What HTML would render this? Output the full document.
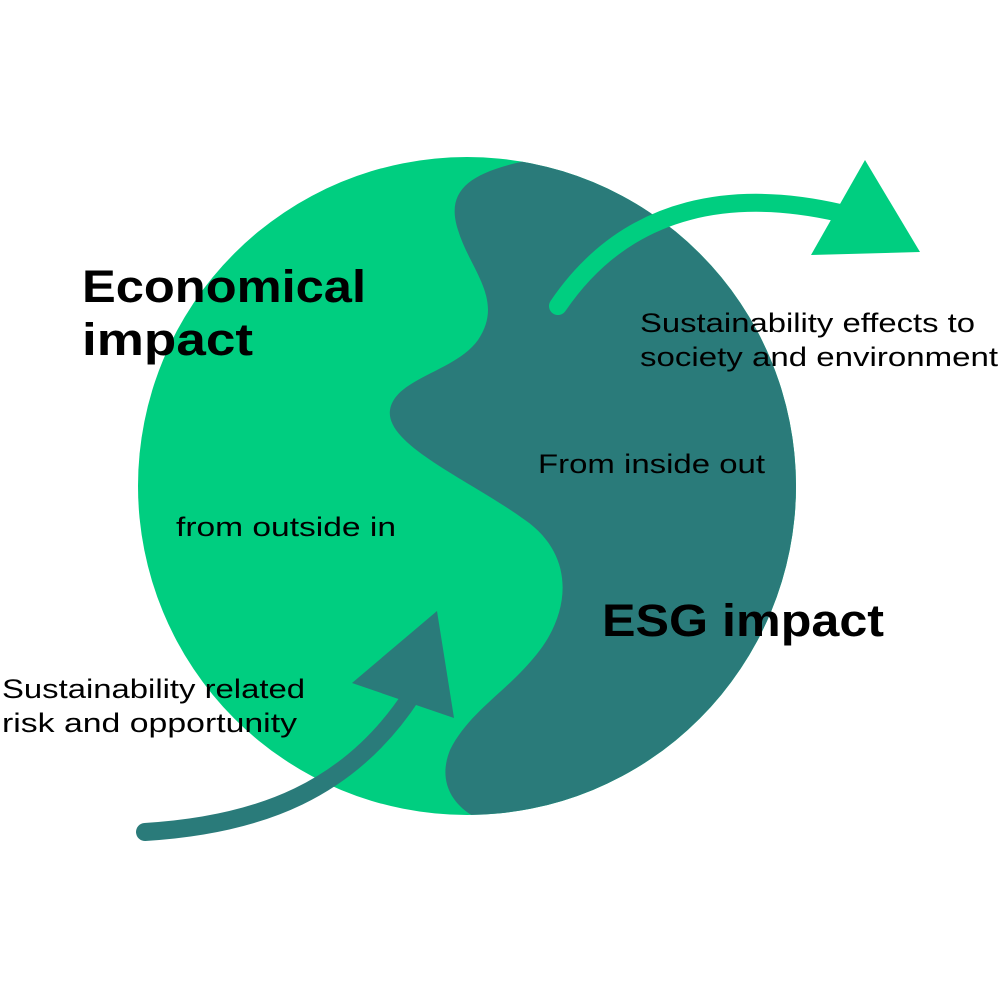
<!DOCTYPE html>
<html><head><meta charset="utf-8"><style>
html,body{margin:0;padding:0;background:#fff;}
svg{display:block;}
text{font-family:"Liberation Sans",sans-serif;fill:#000;}
</style></head><body>
<svg width="1001" height="1000" viewBox="0 0 1001 1000" xmlns="http://www.w3.org/2000/svg">
<defs><clipPath id="c"><circle cx="467" cy="486" r="329"/></clipPath></defs>
<circle cx="467" cy="486" r="329" fill="#00CE80"/>
<g clip-path="url(#c)">
<path d="M530,160 C470,172 445,190 458,230 C470,270 505,300 478,340 C455,372 395,378 390,410 C385,445 470,480 525,520 C575,555 570,610 540,650 C510,690 470,710 450,750 C438,780 450,805 480,820 L900,820 L900,140 Z" fill="#2A7B7A"/>
</g>
<path d="M558,306 C630,200 740,190 840,213" fill="none" stroke="#00CE80" stroke-width="18" stroke-linecap="round"/>
<polygon points="811,255 865,160 920,252" fill="#00CE80"/>
<path d="M145,832 C260,825 350,790 412,695" fill="none" stroke="#2A7B7A" stroke-width="18" stroke-linecap="round"/>
<polygon points="352,683 437,611 454,718" fill="#2A7B7A"/>
<g lengthAdjust="spacingAndGlyphs">
<text x="82" y="302" font-size="45" font-weight="bold" textLength="284" lengthAdjust="spacingAndGlyphs">Economical</text>
<text x="82" y="355" font-size="45" font-weight="bold" textLength="171" lengthAdjust="spacingAndGlyphs">impact</text>
<text x="602" y="636" font-size="45" font-weight="bold" textLength="282" lengthAdjust="spacingAndGlyphs">ESG impact</text>
<text x="640" y="332" font-size="27" textLength="335" lengthAdjust="spacingAndGlyphs">Sustainability effects to</text>
<text x="640" y="366" font-size="27" textLength="358" lengthAdjust="spacingAndGlyphs">society and environment</text>
<text x="538" y="473" font-size="27" textLength="227" lengthAdjust="spacingAndGlyphs">From inside out</text>
<text x="176" y="536" font-size="27" textLength="220" lengthAdjust="spacingAndGlyphs">from outside in</text>
<text x="2" y="698" font-size="27" textLength="303" lengthAdjust="spacingAndGlyphs">Sustainability related</text>
<text x="2" y="732" font-size="27" textLength="295" lengthAdjust="spacingAndGlyphs">risk and opportunity</text>
</g>
</svg>
</body></html>
